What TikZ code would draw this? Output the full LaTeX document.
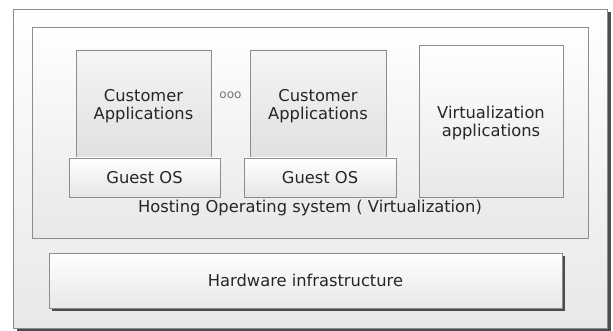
\documentclass[tikz,border=0pt]{standalone}
\usepackage{fontspec}
\setmainfont{DejaVu Sans}
\begin{document}
\begin{tikzpicture}[x=1pt,y=-1pt,
  box/.style={draw=black!45,line width=0.9pt,rectangle,inner sep=0pt,align=center,
    font=\fontsize{16.3}{18.5}\selectfont,text=black!85},
  outerbox/.style={box,top color=white,bottom color=black!9},
  appbox/.style={box,top color=black!4,bottom color=black!12},
  osbox/.style={box,top color=white,bottom color=black!10},
  shadowbox/.style={fill=black!70,draw=none,inner sep=0pt},
  lbl/.style={font=\fontsize{16.3}{18.5}\selectfont,text=black!85,inner sep=0pt}]
\useasboundingbox (0,0) rectangle (613,331);
% outer container with shadow
\node[shadowbox,minimum width=594pt,minimum height=319pt] (outersh) at (313.5,171.5) {};
\node[outerbox,minimum width=594pt,minimum height=319pt] (outer) at (310,168.5) {};
% hosting OS box
\node[outerbox,minimum width=556pt,minimum height=211pt] (host) at (310,132.5) {};
% applications
\node[appbox,minimum width=135pt,minimum height=108pt] (app1) at (143.5,104) {};
\node[lbl,align=center] (app1t) at (143.5,106) {Customer\\Applications};
\node[osbox,minimum width=151pt,minimum height=39pt] (os1) at (144.5,177.5) {Guest OS};
\node[appbox,minimum width=136pt,minimum height=108pt] (app2) at (318,104) {};
\node[lbl,align=center] (app2t) at (318,106) {Customer\\Applications};
\node[osbox,minimum width=152pt,minimum height=39pt] (os2) at (320,177.5) {Guest OS};
\node[outerbox,minimum width=144pt,minimum height=152pt] (virt) at (491,121) {};
\node[lbl,align=center] (virtt) at (491,123) {Virtualization\\applications};
\node[lbl,font=\fontsize{12}{14}\selectfont,text=black!55] (dots) at (230.5,95) {ooo};
\node[lbl] (hosttext) at (310,208) {Hosting Operating system ( Virtualization)};
% hardware
\node[shadowbox,minimum width=513pt,minimum height=55pt] (hwsh) at (308.5,283.5) {};
\node[outerbox,minimum width=513pt,minimum height=55pt] (hw) at (305.5,280.5) {Hardware infrastructure};
\end{tikzpicture}
\end{document}
